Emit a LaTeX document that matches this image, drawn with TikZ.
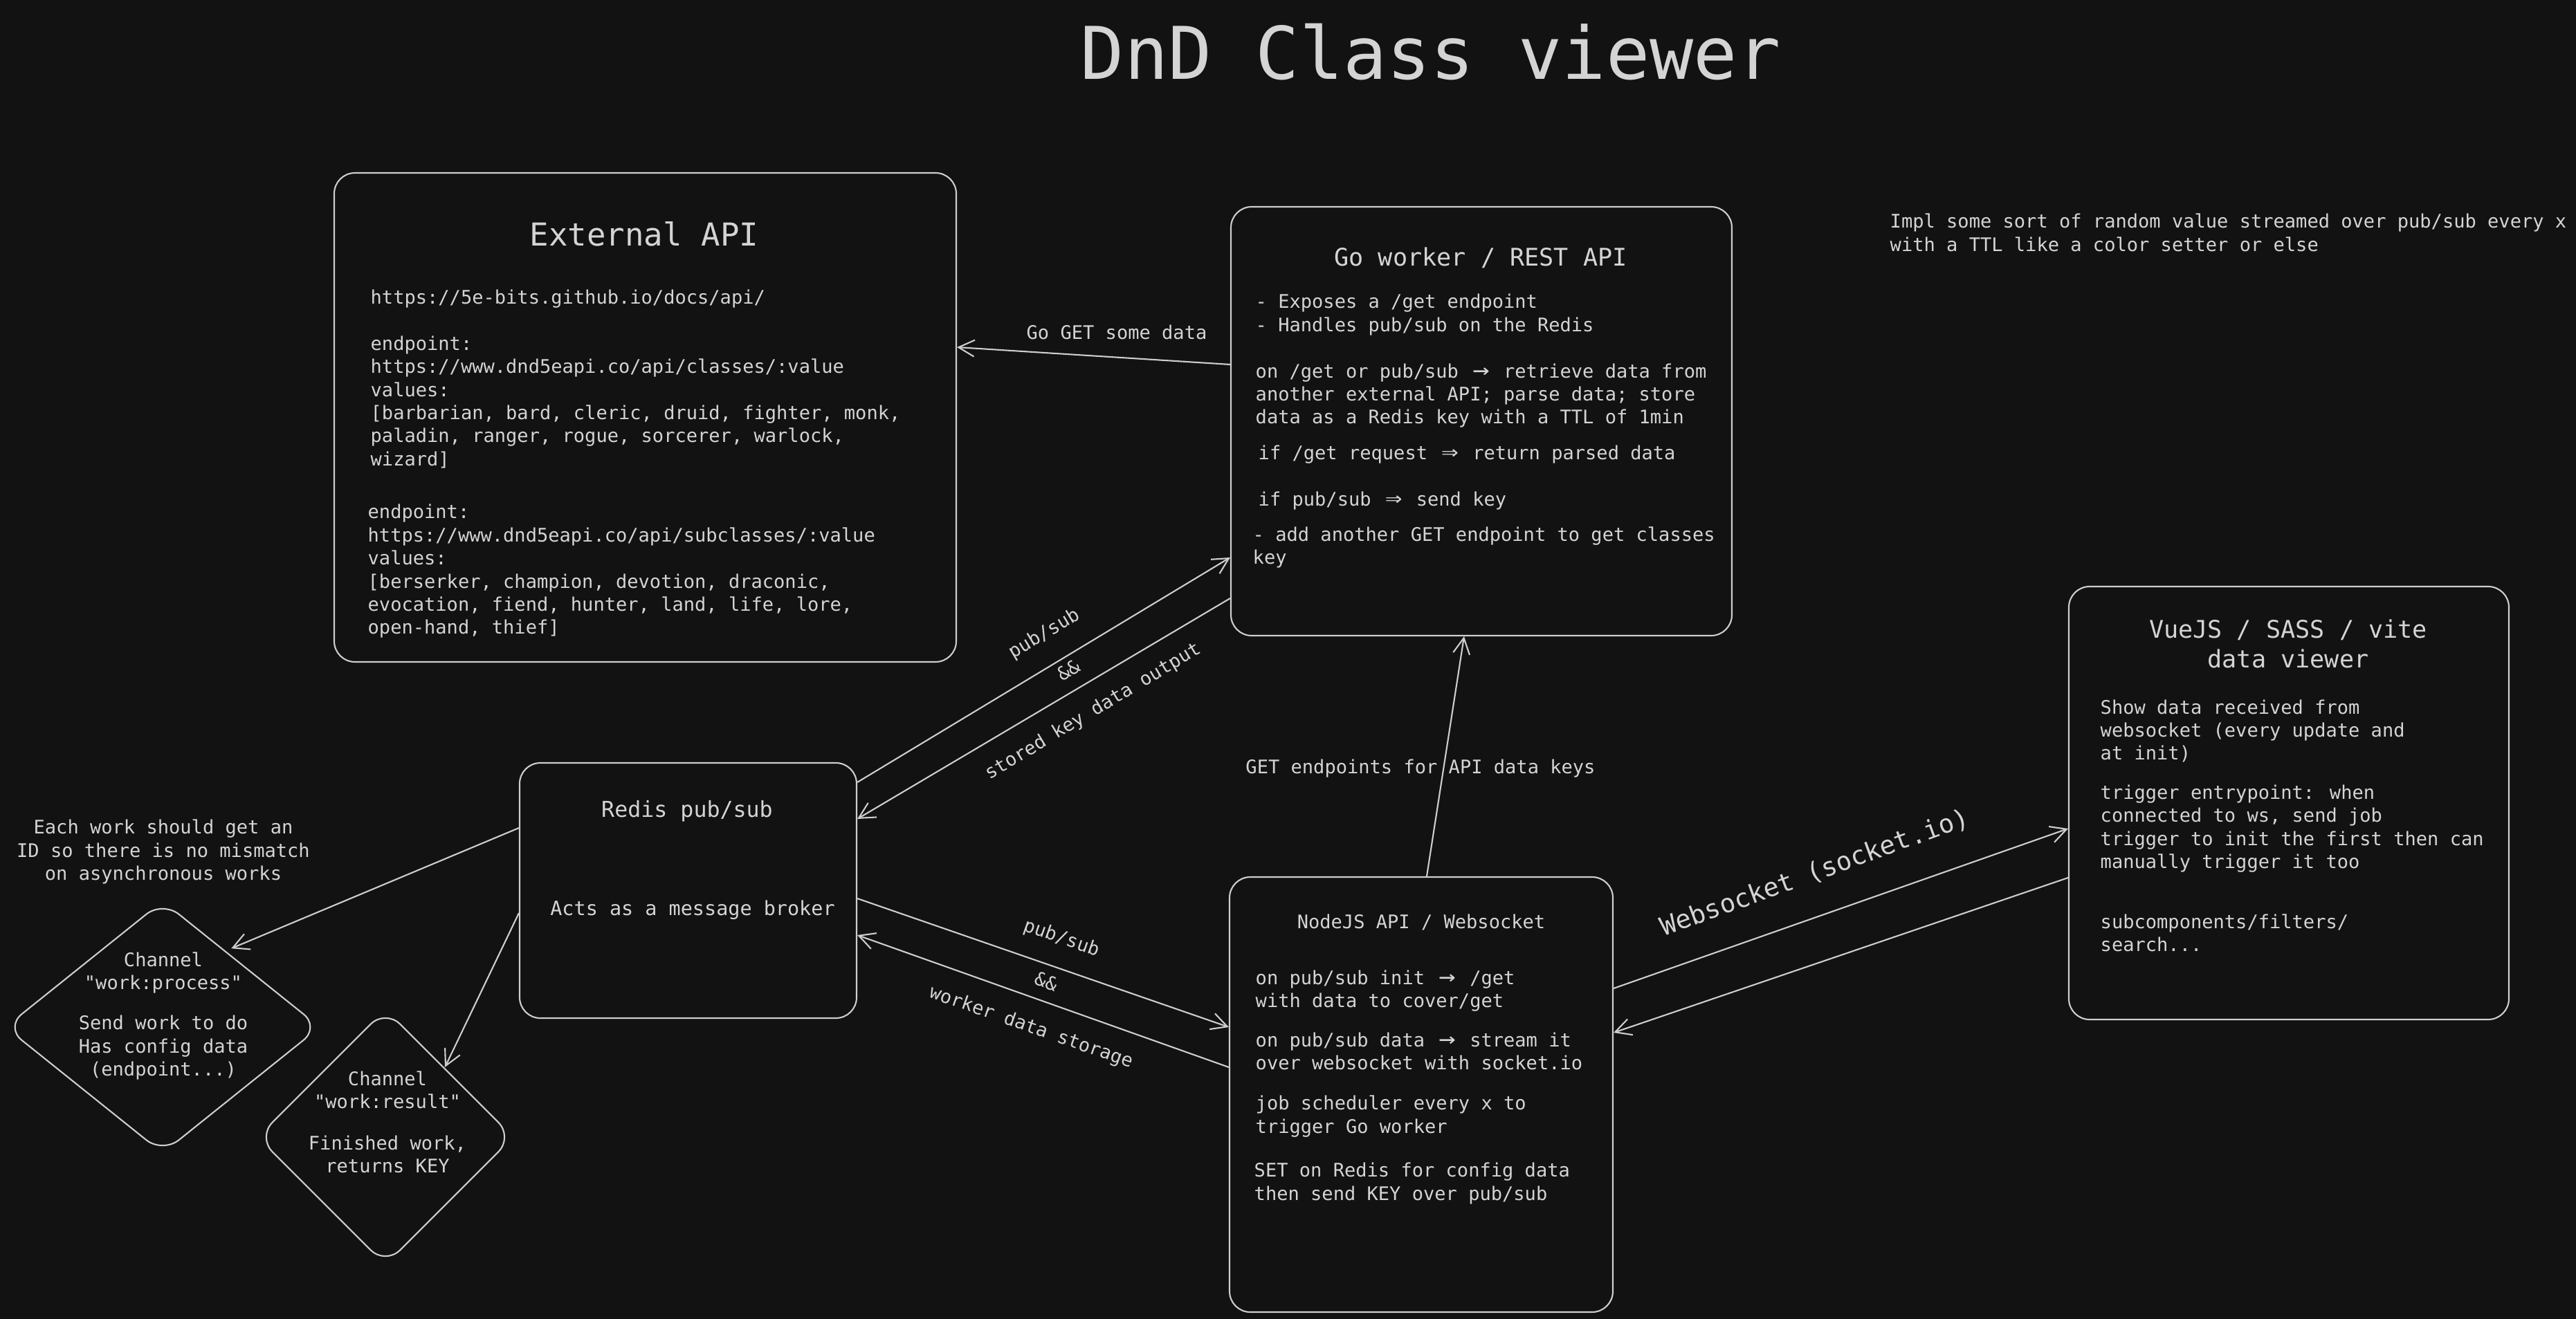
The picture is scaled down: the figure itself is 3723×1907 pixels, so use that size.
\documentclass[tikz,border=0pt]{standalone}
\usepackage{fontspec}
\setmainfont{DejaVu Sans Mono}[Ligatures=TeXOff]
\usetikzlibrary{arrows.meta, shapes.geometric, fit}
\definecolor{canvas}{RGB}{18,18,18}
\definecolor{ink}{RGB}{212,212,212}
\definecolor{wire}{RGB}{206,206,206}
\newcommand{\dndtitle}{\fontsize{29.9pt}{36pt}\selectfont}
\newcommand{\dndhead}{\fontsize{13pt}{16pt}\selectfont}
\newcommand{\dndsub}{\fontsize{10pt}{12.2pt}\selectfont}
\newcommand{\dndbody}{\fontsize{7.7pt}{9.5pt}\selectfont}
\newcommand{\dndsign}[1]{\makebox[1.204em]{\scalebox{1.5}[1.25]{#1}}} % arrow ligature, two characters wide
\tikzset{
        panel/.style={draw=wire, line width=0.6pt, rounded corners=3mm, inner sep=0pt}, % the big boxes
        channel/.style={draw=wire, line width=0.6pt, diamond, rounded corners=3mm, inner sep=0pt}, % redis channels
        note/.style={text=ink, font=\dndbody, align=left, inner sep=0pt}, % plain text
        flow/.style={draw=wire, line width=0.6pt, -{Straight Barb[length=2.3mm, width=2.4mm]}}, % connectors
    }
\tikzstyle{heading}=[text=ink, align=center, inner sep=0pt]

\begin{document}
\begin{tikzpicture}[x=0.1mm, y=-0.1mm]
    \fill[canvas] (0,0) rectangle (3723,1907);
    \useasboundingbox (0,0) rectangle (3723,1907);

    \node[heading, font=\dndtitle] (title) at (2068,75) {DnD Class viewer};

    % boxes
    \node[panel, fit={(483,250) (1382,957)}] (ext) {};
    \node[panel, fit={(1779,299) (2503,919)}] (go) {};
    \node[panel, fit={(2990,848) (3626,1474)}] (vue) {};
    \node[panel, fit={(1777,1268) (2331,1897)}] (nodejs) {};
    \node[panel, fit={(751,1103) (1238,1472)}] (redis) {};
    \node[channel, minimum width=45.5mm, minimum height=36.5mm] (d1) at (235,1485) {};
    \node[channel, minimum width=37mm, minimum height=37mm] (d2) at (557,1644) {};

    % External API
    \node[heading, font=\dndhead] (ext title) at (931,338) {External API};
    \node[note, anchor=west] (ext classes) at (535,548) {https://5e-bits.github.io/docs/api/\\[9.5pt]
        endpoint:\\
        https://www.dnd5eapi.co/api/classes/:value\\
        values:\\
        {[}barbarian, bard, cleric, druid, fighter, monk,\\
        paladin, ranger, rogue, sorcerer, warlock,\\
        wizard]};
    \node[note, anchor=west] (ext subclasses) at (531,826) {endpoint:\\
        https://www.dnd5eapi.co/api/subclasses/:value\\
        values:\\
        {[}berserker, champion, devotion, draconic,\\
        evocation, fiend, hunter, land, life, lore,\\
        open-hand, thief]};

    % Go worker
    \node[heading, font=\dndsub] (go title) at (2140,373) {Go worker / REST API};
    \node[note, anchor=west] (go exposes) at (1814,455) {- Exposes a /get endpoint\\- Handles pub/sub on the Redis};
    \node[note, anchor=west] (go retrieve) at (1814,572) {on /get or pub/sub \dndsign{→} retrieve data from\\
        another external API; parse data; store\\
        data as a Redis key with a TTL of 1min};
    \node[note, anchor=west] (go request) at (1818,657) {if /get request \dndsign{⇒} return parsed data};
    \node[note, anchor=west] (go key) at (1818,724) {if pub/sub \dndsign{⇒} send key};
    \node[note, anchor=west] (go todo) at (1810,791.5) {- add another GET endpoint to get classes\\key};

    \node[note, anchor=west] (impl) at (2731,336.5) {Impl some sort of random value streamed over pub/sub every x\\
        with a TTL like a color setter or else};

    % VueJS
    \node[heading, font=\dndsub] (vue title) at (3307,930.5) {VueJS / SASS / vite\\data viewer};
    \node[note, anchor=west] (vue show) at (3035,1057) {Show data received from\\
        websocket (every update and\\
        at init)};
    \node[note, anchor=west] (vue trigger) at (3035,1198) {trigger entrypoint: when\\
        connected to ws, send job\\
        trigger to init the first then can\\
        manually trigger it too};
    \node[note, anchor=west] (vue sub) at (3035,1349) {subcomponents/filters/\\search...};

    % NodeJS
    \node[heading, font=\dndbody] (nodejs title) at (2054,1333.5) {NodeJS API / Websocket};
    \node[note, anchor=west] (nodejs init) at (1814,1432.5) {on pub/sub init \dndsign{→} /get\\with data to cover/get};
    \node[note, anchor=west] (nodejs stream) at (1814,1520) {on pub/sub data \dndsign{→} stream it\\over websocket with socket.io};
    \node[note, anchor=west] (nodejs job) at (1814,1614) {job scheduler every x to\\trigger Go worker};
    \node[note, anchor=west] (nodejs set) at (1812,1711) {SET on Redis for config data\\then send KEY over pub/sub};

    % Redis
    \node[heading, font=\fontsize{9pt}{11pt}\selectfont] (redis title) at (993,1173) {Redis pub/sub};
    \node[heading, font=\fontsize{8.1pt}{10pt}\selectfont] (redis broker) at (1001,1316) {Acts as a message broker};
    \node[heading, font=\dndbody] (id note) at (236,1231.5) {Each work should get an\\
        ID so there is no mismatch\\
        on asynchronous works};
    \node[heading, font=\dndbody] (d1 text) at (236,1469) {Channel\\"work:process"\\[7pt]
        Send work to do\\Has config data\\(endpoint...)};
    \node[heading, font=\dndbody] (d2 text) at (560,1622.5) {Channel\\"work:result"\\[7.4pt]
        Finished work,\\returns KEY};

    % connectors
    \draw[flow] (go.west |- 0,527) -- (ext.east |- 0,502);
    \draw[flow] (redis.east |- 0,1131) -- (go.west |- 0,806);
    \draw[flow] (go.west |- 0,865) -- (redis.east |- 0,1184);
    \draw[flow] (redis.east |- 0,1299) -- (nodejs.west |- 0,1485);
    \draw[flow] (nodejs.west |- 0,1543) -- (redis.east |- 0,1352);
    \draw[flow] (nodejs.north -| 2062,0) -- (go.south -| 2116,0);
    \draw[flow] (nodejs.east |- 0,1429) -- (vue.west |- 0,1198);
    \draw[flow] (vue.west |- 0,1269) -- (nodejs.east |- 0,1493);
    \draw[flow] (redis.west |- 0,1197) -- ([shift={(-15,-22)}]d1.north east);
    \draw[flow] (redis.west |- 0,1320) -- ([shift={(-7,-8)}]d2.north east);

    % connector labels
    \node[heading, font=\dndbody] (get data) at (1614,480) {Go GET some data};
    \node[heading, font=\dndbody] (get keys) at (2053,1111) {GET endpoints for API data keys};
    \node[heading, font=\dndbody, rotate=31] (go pubsub) at (1510,917) {pub/sub};
    \node[heading, font=\dndbody, rotate=31] (go and) at (1544.5,969) {\&\&};
    \node[heading, font=\dndbody, rotate=31] (go stored) at (1580,1029) {stored key data output};
    \node[heading, font=\dndbody, rotate=-19.3] (nodejs pubsub) at (1534,1357) {pub/sub};
    \node[heading, font=\dndbody, rotate=-19.3] (nodejs and) at (1512,1419) {\&\&};
    \node[heading, font=\dndbody, rotate=-19.3] (nodejs storage) at (1490,1486) {worker data storage};
    \node[heading, font=\fontsize{10.6pt}{13pt}\selectfont, rotate=20] (ws) at (2623,1262) {Websocket (socket.io)};
\end{tikzpicture}
\end{document}
